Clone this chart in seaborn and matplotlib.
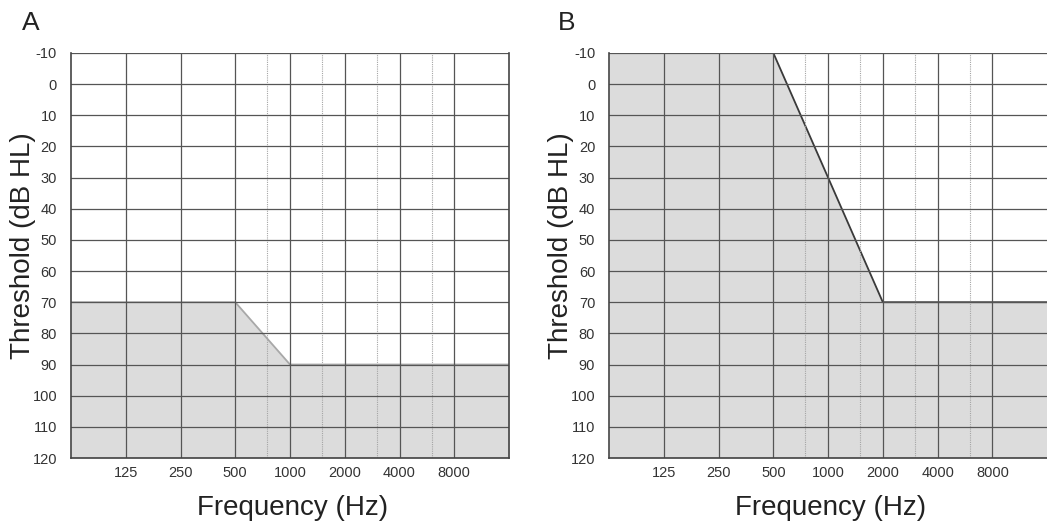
import numpy as np
import pandas as pd
import matplotlib
matplotlib.use("Agg")
import matplotlib.pyplot as plt
import seaborn as sns

# octave audiogram frequencies and half-octave (dotted) lines
octave_freqs = [125, 250, 500, 1000, 2000, 4000, 8000]
half_octave_freqs = [750, 1500, 3000, 6000]
db_ticks = list(range(-10, 121, 10))
freq_range = [62.5, 16000]

# panel A boundary of the shaded region
freq_a = [62.5, 500, 1000, 16000]
thresh_a = [70, 70, 90, 90]

# panel B boundary of the shaded region
freq_b = [62.5, 500, 2000, 16000]
thresh_b = [-10, -10, 70, 70]

panels = [
    ("A", freq_a, thresh_a, "#a8a8a8", -0.112),
    ("B", freq_b, thresh_b, "#3a3a3a", -0.116),
]

sns.set_style("white")
plt.rcParams["font.family"] = ["Liberation Sans", "DejaVu Sans"]

fig = plt.figure(figsize=(10.47, 5.22), dpi=100)
axes = [
    fig.add_axes([0.0678, 0.1226, 0.4184, 0.776]),
    fig.add_axes([0.5817, 0.1226, 0.4184, 0.776]),
]

for ax, (letter, freqs, thresh, line_color, letter_x) in zip(axes, panels):
    df = pd.DataFrame({"Frequency": freqs, "Threshold": thresh})

    # shaded area below the boundary (larger dB values)
    ax.fill_between(df["Frequency"], df["Threshold"], 120,
                    color="#dcdcdc", lw=0, zorder=0)
    sns.lineplot(data=df, x="Frequency", y="Threshold", ax=ax,
                 color=line_color, lw=1.3, zorder=1, sort=False)

    ax.set_xscale("log", base=2)
    ax.set_xlim(*freq_range)
    ax.set_ylim(120, -10)

    # grid
    for f in octave_freqs:
        ax.axvline(f, color="#555555", lw=0.9, zorder=2)
    for f in half_octave_freqs:
        ax.axvline(f, color="#a5a5a5", lw=0.8, ls=(0, (1, 1)), zorder=2)
    for d in db_ticks:
        ax.axhline(d, color="#555555", lw=0.9, zorder=2)

    ax.set_xticks(octave_freqs)
    ax.set_xticklabels([str(f) for f in octave_freqs])
    ax.minorticks_off()
    ax.set_yticks(db_ticks)
    ax.set_yticklabels([str(d) for d in db_ticks])
    ax.tick_params(axis="both", length=0, labelsize=10.5, labelcolor="#333333")
    ax.tick_params(axis="x", pad=6)
    ax.tick_params(axis="y", pad=10)

    for side in ["left", "bottom", "right"]:
        ax.spines[side].set_color("#444444")
        ax.spines[side].set_linewidth(1.2)
    ax.spines["top"].set_visible(False)

    ax.set_xlabel("Frequency (Hz)", fontsize=20, color="#222222")
    ax.set_ylabel("Threshold (dB HL)", fontsize=20, color="#222222")
    ax.xaxis.set_label_coords(0.505, -0.092)
    ax.yaxis.set_label_coords(-0.08, 0.525)

    ax.text(letter_x, 1.074, letter, transform=ax.transAxes,
            fontsize=19, color="#222222", ha="left", va="center")

axes[1].spines["right"].set_visible(False)

fig.savefig("out.png", dpi=100)
